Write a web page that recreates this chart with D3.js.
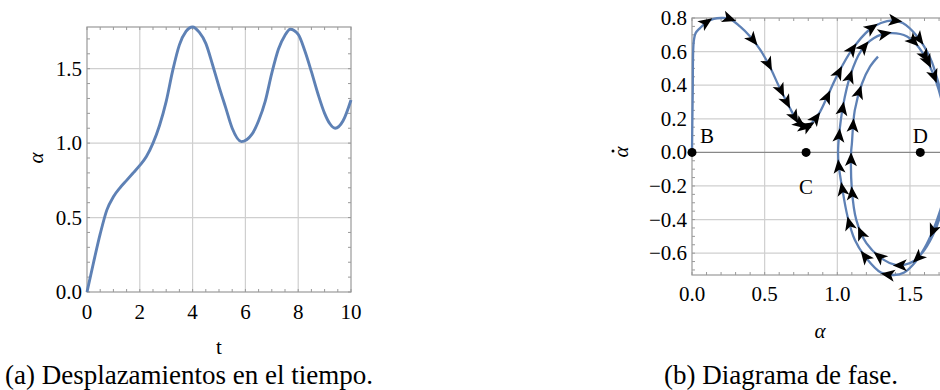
<!DOCTYPE html>
<html><head><meta charset="utf-8">
<script src="https://cdn.jsdelivr.net/npm/d3@7"></script>
<style>
body{margin:0;background:#fff;}
svg text{font-family:"Liberation Serif",serif;fill:#000;}
</style></head>
<body><svg id="c" width="940" height="390" font-family="Liberation Serif, serif"></svg>
<script>
// ---- Data: (a) displacement vs time ----
const timeT = [0,0.25,0.5,0.75,1.0,1.25,1.5,1.75,2.0,2.25,2.5,2.75,3.0,3.25,3.5,3.75,4.0,4.25,4.5,4.75,5.0,5.25,5.5,5.85,6.25,6.5,6.75,7.0,7.25,7.5,7.7,8.0,8.25,8.5,8.75,9.0,9.2,9.4,9.7,10];
const timeAlpha = [0,0.20,0.39,0.55,0.64,0.70,0.75,0.80,0.85,0.91,1.00,1.12,1.28,1.49,1.66,1.75,1.78,1.745,1.67,1.53,1.38,1.24,1.10,1.01,1.06,1.15,1.28,1.47,1.63,1.725,1.765,1.73,1.62,1.48,1.33,1.20,1.13,1.10,1.15,1.29];
const xTicksA = [0,2,4,6,8,10];
const yTicksA = [0.0,0.5,1.0,1.5];

// ---- Data: (b) phase diagram ----
const phaseAlpha = [0,0.005,0.012,0.025,0.055,0.10,0.15,0.20,0.26,0.33,0.40,0.47,0.53,0.60,0.67,0.73,0.77,0.79,0.83,0.88,0.93,1.00,1.10,1.22,1.30,1.38,1.45,1.55,1.64,1.70,1.75,1.78,1.765,1.71,1.66,1.60,1.53,1.46,1.39,1.30,1.20,1.12,1.07,1.035,1.01,1.005,1.012,1.04,1.09,1.16,1.25,1.36,1.48,1.59,1.68,1.74,1.77,1.755,1.72,1.67,1.60,1.53,1.46,1.40,1.32,1.20,1.13,1.10,1.095,1.10,1.12,1.17,1.225,1.28];
const phaseAlphaDot = [0,0.35,0.66,0.71,0.74,0.775,0.795,0.80,0.795,0.75,0.69,0.61,0.52,0.39,0.27,0.18,0.155,0.153,0.18,0.24,0.33,0.46,0.61,0.73,0.77,0.785,0.77,0.69,0.56,0.40,0.22,0.0,-0.18,-0.34,-0.46,-0.57,-0.66,-0.715,-0.73,-0.715,-0.63,-0.52,-0.38,-0.22,-0.08,0.0,0.10,0.28,0.46,0.60,0.68,0.71,0.69,0.59,0.42,0.22,0.0,-0.18,-0.34,-0.47,-0.58,-0.645,-0.67,-0.67,-0.64,-0.54,-0.40,-0.22,0.0,0.05,0.25,0.41,0.51,0.57];
const arrowAlpha = [0.10,0.26,0.42,0.525,0.62,0.66,0.71,0.745,0.775,0.80,0.85,0.93,1.01,1.11,1.24,1.40,1.56,1.63,1.67,1.35,1.20,1.087,1.03,1.007,1.014,1.04,1.10,1.21,1.33,1.535,1.60,1.66,1.55,1.43,1.29,1.19,1.12,1.10,1.11,1.156];
const arrowAlphaDot = [0.775,0.795,0.67,0.52,0.37,0.30,0.21,0.17,0.155,0.16,0.21,0.33,0.475,0.61,0.74,0.785,0.67,0.54,0.45,-0.72,-0.61,-0.42,-0.22,-0.08,0.10,0.26,0.45,0.61,0.705,0.665,0.57,-0.47,-0.625,-0.67,-0.62,-0.47,-0.24,-0.04,0.16,0.36];
const fixedPoints = [{name:"B",a:0,v:0},{name:"C",a:0.785,v:0},{name:"D",a:1.571,v:0}];
const xTicksB = [0.0,0.5,1.0,1.5];
const yTicksB = [-0.6,-0.4,-0.2,0.0,0.2,0.4,0.6,0.8];

const svg = d3.select("#c");
const FONT = "Liberation Serif, serif";
const blue = "#5e81b5", gridC = "#cfcfcf", frameC = "#999";
const fmt1 = v => d3.format(".1f")(v).replace("-", "\u2212");

function frame(g, x, y, xMinor, yMinor){
  const [x0,x1] = x.range(), [y0,y1] = y.range();
  const tk = g.append("g").attr("stroke", frameC).attr("stroke-width",1);
  xMinor.forEach(v=>{ const px=x(v);
    tk.append("line").attr("x1",px).attr("x2",px).attr("y1",y0).attr("y2",y0-3);
    tk.append("line").attr("x1",px).attr("x2",px).attr("y1",y1).attr("y2",y1+3);});
  yMinor.forEach(v=>{ const py=y(v);
    tk.append("line").attr("x1",x0).attr("x2",x0+3).attr("y1",py).attr("y2",py);
    tk.append("line").attr("x1",x1).attr("x2",x1-3).attr("y1",py).attr("y2",py);});
  g.append("rect").attr("x",x0).attr("y",y1).attr("width",x1-x0).attr("height",y0-y1)
    .attr("fill","none").attr("stroke",frameC).attr("stroke-width",1.2);
}
function txt(g){ return g.append("text").attr("font-family",FONT).attr("fill","#000"); }

// ===== Chart (a) =====
{
  const x = d3.scaleLinear().domain([0,10]).range([87,351]);
  const y = d3.scaleLinear().domain([0,1.78]).range([292,27]);
  const g = svg.append("g");
  g.append("g").selectAll("line").data([2,4,6,8]).join("line")
    .attr("x1",d=>x(d)).attr("x2",d=>x(d)).attr("y1",y(0)).attr("y2",y(1.78))
    .attr("stroke",gridC).attr("stroke-width",1.2);
  g.append("g").selectAll("line").data([0.5,1.0,1.5]).join("line")
    .attr("x1",x(0)).attr("x2",x(10)).attr("y1",d=>y(d)).attr("y2",d=>y(d))
    .attr("stroke",gridC).attr("stroke-width",1.2);
  frame(g, x, y, d3.range(0,10.01,0.5), d3.range(0,1.78,0.1));
  const line = d3.line().x(d=>x(d[0])).y(d=>y(d[1])).curve(d3.curveMonotoneX);
  g.append("path").datum(timeT.map((t,i)=>[t,timeAlpha[i]])).attr("d",line)
    .attr("fill","none").attr("stroke",blue).attr("stroke-width",2.9);
  g.append("g").attr("font-family",FONT).selectAll("text").data(xTicksA).join("text")
    .attr("x",d=>x(d)).attr("y",319).attr("text-anchor","middle").attr("font-size",21).text(d=>d);
  g.append("g").attr("font-family",FONT).selectAll("text").data(yTicksA).join("text")
    .attr("x",82).attr("y",d=>y(d)+7).attr("text-anchor","end").attr("font-size",21).text(d=>fmt1(d));
  txt(g).attr("x",219).attr("y",354).attr("text-anchor","middle").attr("font-size",21).text("t");
  txt(g).attr("transform","translate(43,158) rotate(-90)").attr("text-anchor","middle")
    .attr("font-size",21).attr("font-style","italic").text("α");
  txt(g).attr("x",189).attr("y",384).attr("text-anchor","middle").attr("font-size",27)
    .text("(a) Desplazamientos en el tiempo.");
}

// ===== Chart (b) =====
{
  const x = d3.scaleLinear().domain([0,1.785]).range([692,951.4]);
  const y = d3.scaleLinear().domain([-0.73,0.8]).range([275,18]);
  const g = svg.append("g");
  g.append("g").selectAll("line").data([0.5,1.0,1.5]).join("line")
    .attr("x1",d=>x(d)).attr("x2",d=>x(d)).attr("y1",y(-0.73)).attr("y2",y(0.8))
    .attr("stroke",gridC).attr("stroke-width",1.2);
  g.append("g").selectAll("line").data([-0.6,-0.4,-0.2,0.2,0.4,0.6]).join("line")
    .attr("x1",x(0)).attr("x2",x(1.785)).attr("y1",d=>y(d)).attr("y2",d=>y(d))
    .attr("stroke",gridC).attr("stroke-width",1.2);
  frame(g, x, y, d3.range(0,1.785,0.1), d3.range(-0.7,0.801,0.05));
  g.append("line").attr("x1",x(0)).attr("x2",x(1.785)).attr("y1",y(0)).attr("y2",y(0))
    .attr("stroke","#888").attr("stroke-width",1.4);

  const line = d3.line().x(d=>x(d[0])).y(d=>y(d[1])).curve(d3.curveCatmullRom.alpha(0.5));
  const path = g.append("path").datum(phaseAlpha.map((a,i)=>[a,phaseAlphaDot[i]])).attr("d",line)
    .attr("fill","none").attr("stroke",blue).attr("stroke-width",2.3);

  const node = path.node(), L = node.getTotalLength(), samples = [];
  for(let s=0; s<=L; s+=1){ const p=node.getPointAtLength(s); samples.push([p.x,p.y]); }
  const arrows = arrowAlpha.map((a,i)=>{
    const px=x(a), py=y(arrowAlphaDot[i]);
    let best=0, bd=1e9;
    samples.forEach((s,j)=>{const d=(s[0]-px)**2+(s[1]-py)**2; if(d<bd){bd=d;best=j;}});
    const p0=samples[Math.max(0,best-3)], p1=samples[Math.min(samples.length-1,best+3)];
    const ang=Math.atan2(p1[1]-p0[1],p1[0]-p0[0])*180/Math.PI;
    return {x:samples[best][0], y:samples[best][1], ang};
  });
  g.append("g").selectAll("path").data(arrows).join("path")
    .attr("d","M7,0 L-7,-6 L-3.5,0 L-7,6 Z")
    .attr("transform",d=>`translate(${d.x},${d.y}) rotate(${d.ang})`)
    .attr("fill","#000");

  g.append("g").selectAll("circle").data(fixedPoints).join("circle")
    .attr("cx",d=>x(d.a)).attr("cy",d=>y(d.v)).attr("r",4.5).attr("fill","#000");
  const lab = {B:[8,-9,"start"],C:[0,42,"middle"],D:[0,-9,"middle"]};
  g.append("g").attr("font-family",FONT).selectAll("text").data(fixedPoints).join("text")
    .attr("x",d=>x(d.a)+lab[d.name][0]).attr("y",d=>y(d.v)+lab[d.name][1])
    .attr("text-anchor",d=>lab[d.name][2]).attr("font-size",21).text(d=>d.name);

  g.append("g").attr("font-family",FONT).selectAll("text").data(xTicksB).join("text")
    .attr("x",d=>x(d)).attr("y",301).attr("text-anchor","middle").attr("font-size",21).text(d=>fmt1(d));
  g.append("g").attr("font-family",FONT).selectAll("text").data(yTicksB).join("text")
    .attr("x",687).attr("y",d=>y(d)+7).attr("text-anchor","end").attr("font-size",21).text(d=>fmt1(d));
  txt(g).attr("x",820).attr("y",338).attr("text-anchor","middle").attr("font-size",21)
    .attr("font-style","italic").text("α");
  const ad = g.append("g").attr("transform","translate(628,152) rotate(-90)");
  txt(ad).attr("x",0).attr("y",0).attr("text-anchor","middle").attr("font-size",21)
    .attr("font-style","italic").text("α");
  ad.append("circle").attr("cx",1).attr("cy",-15).attr("r",1.5).attr("fill","#000");
  txt(g).attr("x",781).attr("y",384).attr("text-anchor","middle").attr("font-size",27)
    .text("(b) Diagrama de fase.");
}
</script></body></html>
